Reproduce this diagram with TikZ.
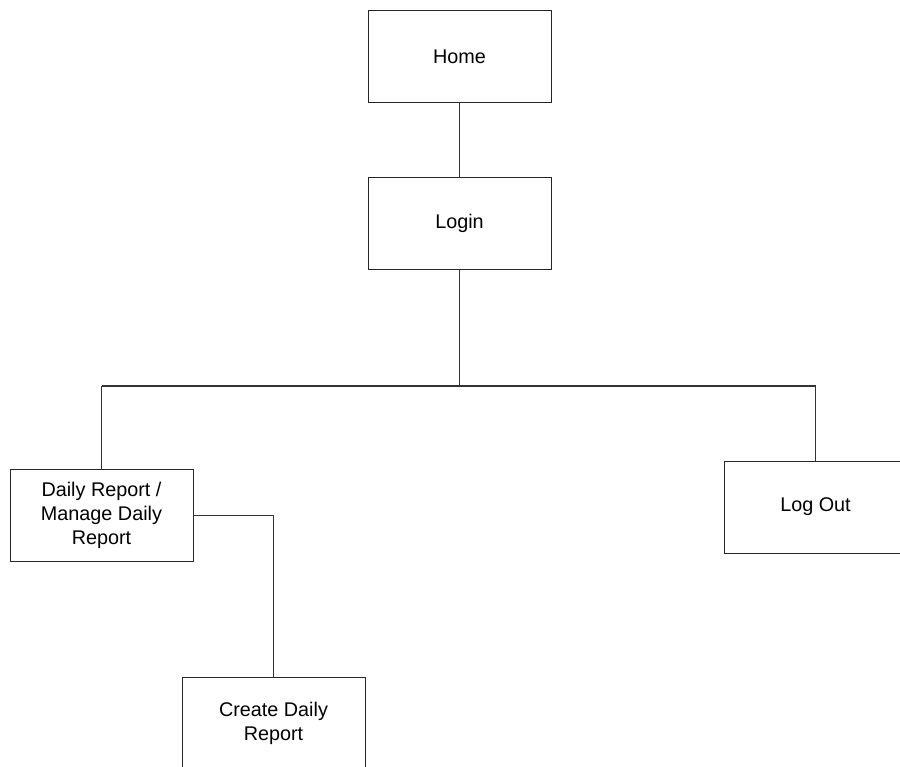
\documentclass[tikz,border=0pt]{standalone}
\usepackage{fontspec}
\setmainfont{Liberation Sans}
\begin{document}
\begin{tikzpicture}[x=1pt,y=-1pt,
  page/.style={draw=black!85, line width=1pt, fill=white,
    minimum width=183pt, minimum height=92pt, inner sep=2pt,
    align=center, font=\fontsize{19.8}{24.3}\selectfont},
  link/.style={draw=black!80, line width=1pt}]
  \useasboundingbox (0,0) rectangle (900,767);
  \clip (0,0) rectangle (900,767);
  % pages
  \node[page] (home)   at (459.5,57)    {Home};
  \node[page] (login)  at (459.5,223.5) {Login};
  \node[page] (daily)  at (101.5,515.5) {Daily Report /\\Manage Daily\\Report};
  \node[page] (logout) at (815.5,507)   {Log Out};
  \node[page] (create) at (273.5,723.5) {Create Daily\\Report};
  \coordinate (hub) at (459.5,386);
  \coordinate (hubL) at (101.5,386);
  \coordinate (hubR) at (815.5,386);
  % links
  \draw[link] (home.south) -- (login.north);
  \draw[link] (login.south) -- (hub);
  \draw[link, line width=1.6pt] (hubL) -- (hubR);
  \draw[link] (daily.north) -- (hubL);
  \draw[link] (hubR) -- (logout.north);
  \draw[link] (daily.east) -| (create.north);
\end{tikzpicture}
\end{document}
